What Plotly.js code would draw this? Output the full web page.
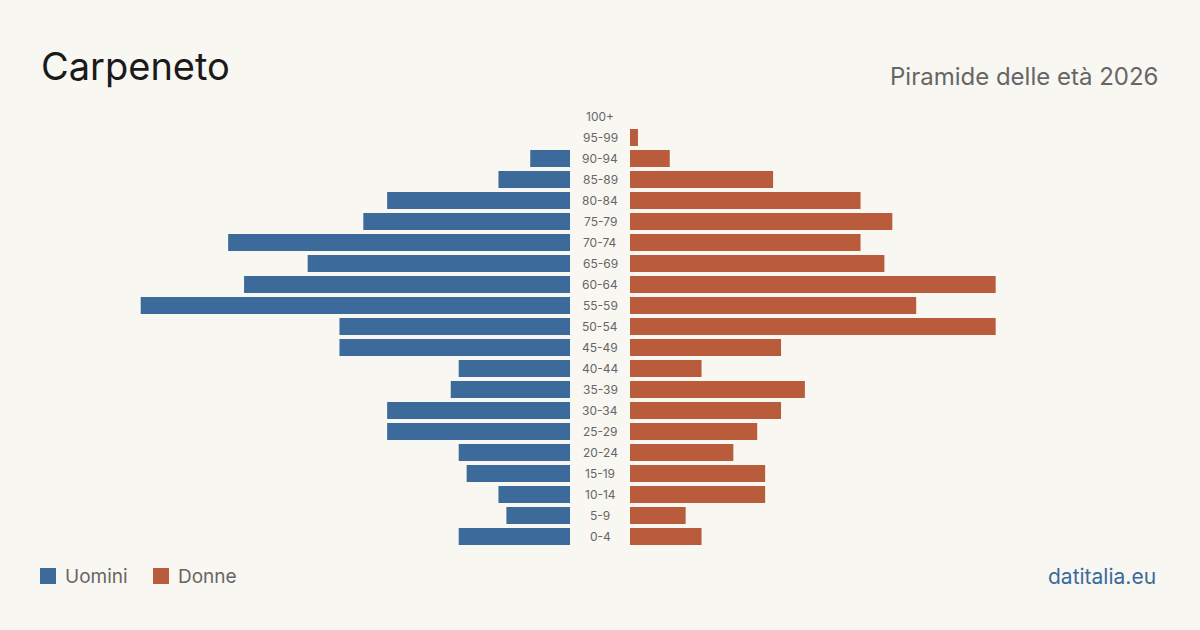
<!DOCTYPE html>
<html><head><meta charset="utf-8">
<script src="https://cdn.plot.ly/plotly-3.0.1.min.js"></script>
<style>html,body{margin:0;padding:0;background:#f9f7f2;}#chart{width:1200px;height:630px;}</style>
</head><body><div id="chart"></div>
<script>
const ageGroups = ["0-4","5-9","10-14","15-19","20-24","25-29","30-34","35-39","40-44","45-49","50-54","55-59","60-64","65-69","70-74","75-79","80-84","85-89","90-94","95-99","100+"];
const uomini = [14,8,9,13,14,23,23,15,14,29,29,54,41,33,43,26,23,9,5,0,0];
const donne  = [9,7,17,17,13,16,19,22,9,19,46,36,46,32,29,33,29,18,5,1,0];
const seriesNames = ["Uomini","Donne"];
const colors = ["#3b6a9b","#b95c3c"];
const maxRange = 71.7;

const traces = [
  {type:'bar', orientation:'h', y:ageGroups, x:uomini, name:seriesNames[0], marker:{color:colors[0]}, xaxis:'x', yaxis:'y', hoverinfo:'x+y'},
  {type:'bar', orientation:'h', y:ageGroups, x:donne, name:seriesNames[1], marker:{color:colors[1]}, xaxis:'x2', yaxis:'y', hoverinfo:'x+y'}
];

const font = "Inter, 'Liberation Sans', sans-serif";
const py = v => 1 - v/630;
const annotations = ageGroups.map(a => ({
  text:a, x:0.5, xref:'paper', y:a, yref:'y', showarrow:false,
  font:{family:font, size:12, color:'#666'}, xanchor:'center', yanchor:'middle'
}));
annotations.push(
  {text:'Carpeneto', x:39/1200, xref:'paper', y:py(66), yref:'paper', xanchor:'left', yanchor:'middle', showarrow:false, font:{family:font, size:38, color:'#1a1a1a'}},
  {text:'Piramide delle età 2026', x:1160/1200, xref:'paper', y:py(76), yref:'paper', xanchor:'right', yanchor:'middle', showarrow:false, font:{family:font, size:24, color:'#666'}},
  {text:seriesNames[0], x:63/1200, xref:'paper', y:py(576), yref:'paper', xanchor:'left', yanchor:'middle', showarrow:false, font:{family:font, size:19, color:'#666'}},
  {text:seriesNames[1], x:176/1200, xref:'paper', y:py(576), yref:'paper', xanchor:'left', yanchor:'middle', showarrow:false, font:{family:font, size:19, color:'#666'}},
  {text:'datitalia.eu', x:1158/1200, xref:'paper', y:py(576), yref:'paper', xanchor:'right', yanchor:'middle', showarrow:false, font:{family:font, size:21, color:'#3b6a9b'}}
);

const shapes = [
  {type:'rect', xref:'paper', yref:'paper', x0:40/1200, x1:56/1200, y0:py(584), y1:py(568), fillcolor:colors[0], line:{width:0}},
  {type:'rect', xref:'paper', yref:'paper', x0:153/1200, x1:169/1200, y0:py(584), y1:py(568), fillcolor:colors[1], line:{width:0}}
];

const layout = {
  width:1200, height:630,
  paper_bgcolor:'#f9f7f2', plot_bgcolor:'#f9f7f2',
  margin:{l:0, r:0, t:0, b:0},
  showlegend:false,
  bargap:0.19,
  xaxis:{domain:[0, 570/1200], range:[maxRange, 0], visible:false, fixedrange:true},
  xaxis2:{domain:[630/1200, 1], range:[0, maxRange], visible:false, fixedrange:true},
  yaxis:{type:'category', categoryorder:'array', categoryarray:ageGroups, range:[-0.5, ageGroups.length-0.5], domain:[py(547), py(106)], visible:false, fixedrange:true},
  annotations:annotations,
  shapes:shapes,
  font:{family:font}
};

Plotly.newPlot('chart', traces, layout, {displayModeBar:false, staticPlot:true});
</script></body></html>
